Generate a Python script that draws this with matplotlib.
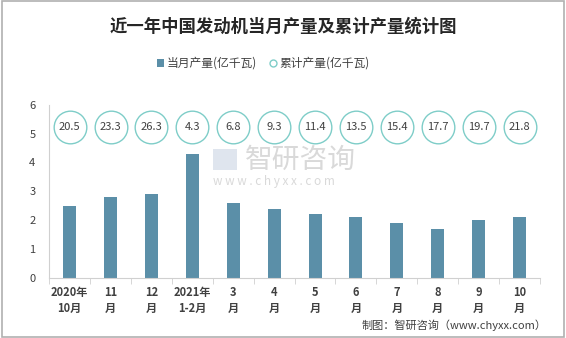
import matplotlib.pyplot as plt
import numpy as np
from matplotlib.patches import Rectangle

plt.rcParams['font.family'] = ['Noto Sans CJK SC', 'DejaVu Sans']

months = ['2020年\n10月', '11\n月', '12\n月', '2021年\n1-2月', '3\n月', '4\n月',
          '5\n月', '6\n月', '7\n月', '8\n月', '9\n月', '10\n月']
monthly = [2.5, 2.8, 2.9, 4.3, 2.6, 2.4, 2.2, 2.1, 1.9, 1.7, 2.0, 2.1]
cumulative = [20.5, 23.3, 26.3, 4.3, 6.8, 9.3, 11.4, 13.5, 15.4, 17.7, 19.7, 21.8]

bar_color = '#5b8fa8'
ring_color = '#7ecdc8'
text_color = '#404040'

fig = plt.figure(figsize=(5.66, 3.38), dpi=100)
fig.patches.append(Rectangle((0.004, 0.004), 0.992, 0.992, transform=fig.transFigure,
                             fill=False, edgecolor='#b0b0b0', linewidth=1.2))

ax = fig.add_axes([0.087, 0.178, 0.867, 0.512])
x = np.arange(len(months))
ax.bar(x, monthly, width=0.32, color=bar_color, zorder=2)

# cumulative totals shown as rings with the value inside
ring_y = 5.22
ax.plot(x, [ring_y] * len(x), linestyle='none', marker='o', markersize=23.5,
        markerfacecolor='white', markeredgecolor=ring_color, markeredgewidth=1.0,
        clip_on=False, zorder=3)
for xi, v in zip(x, cumulative):
    ax.text(xi, ring_y, f'{v}', ha='center', va='center', fontsize=8,
            color=text_color, zorder=4)

ax.set_xlim(-0.5, len(months) - 0.5)
ax.set_ylim(0, 6)
ax.set_yticks(range(7))
ax.tick_params(axis='y', length=0, labelsize=8, labelcolor=text_color, pad=10)
ax.set_xticks(x)
ax.set_xticklabels(months, fontsize=8, fontweight='bold', color=text_color, linespacing=1.3)
ax.tick_params(axis='x', length=0, pad=6)
ax.set_xticks(np.arange(-0.5, len(months), 1), minor=True)
ax.tick_params(axis='x', which='minor', length=4, color='#d0d0d0')
for s in ['top', 'right']:
    ax.spines[s].set_visible(False)
ax.spines['left'].set_color('#d0d0d0')
ax.spines['bottom'].set_color('#d0d0d0')

# watermark, kept behind the bars
ax.add_patch(Rectangle((0.376, 0.498), 0.042, 0.062, transform=fig.transFigure,
                       facecolor='#dfe5ee', edgecolor='none', zorder=1))
ax.text(0.432, 0.528, '智研咨询', transform=fig.transFigure, ha='left', va='center',
        fontsize=20, color='#d9d9d9', zorder=1)
ax.text(0.376, 0.464, 'w w w . c h y x x . c o m', transform=fig.transFigure,
        ha='left', va='center', fontsize=8.5, color='#d9d9d9', zorder=1)

fig.text(0.5, 0.922, '近一年中国发动机当月产量及累计产量统计图', ha='center', va='center',
         fontsize=12.5, fontweight='bold', color='#262626')

# legend
fig.patches.append(Rectangle((0.277, 0.802), 0.012, 0.024, transform=fig.transFigure,
                             facecolor=bar_color, edgecolor='none'))
fig.text(0.295, 0.814, '当月产量(亿千瓦)', ha='left', va='center', fontsize=8.5, color=text_color)
fig.lines.append(plt.Line2D([0.483], [0.814], transform=fig.transFigure, marker='o',
                            markersize=5, markerfacecolor='white',
                            markeredgecolor=ring_color, markeredgewidth=1.0))
fig.text(0.494, 0.814, '累计产量(亿千瓦)', ha='left', va='center', fontsize=8.5, color=text_color)

fig.text(0.965, 0.038, '制图：智研咨询（www.chyxx.com）', ha='right', va='center',
         fontsize=8, color=text_color)

fig.savefig('out.png', dpi=100)
